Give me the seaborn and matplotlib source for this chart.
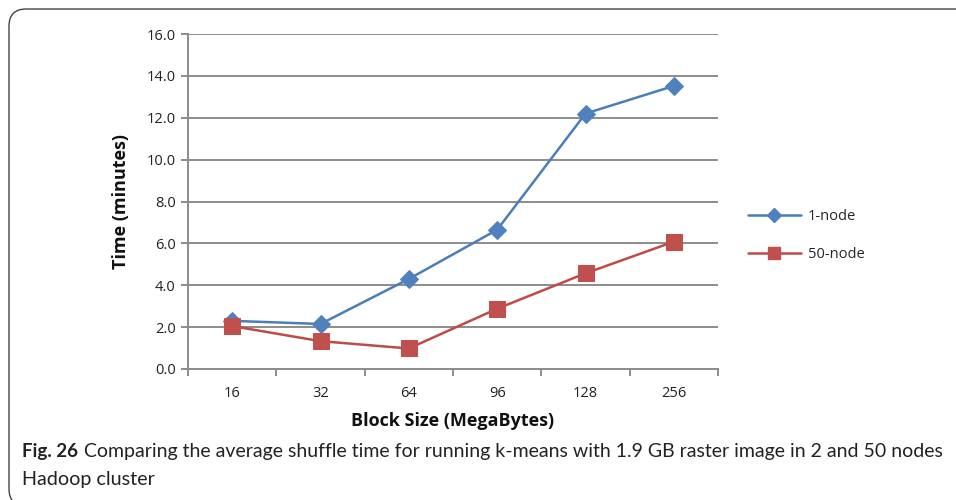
import numpy as np
import pandas as pd
import matplotlib
matplotlib.use("Agg")
import matplotlib.pyplot as plt
from matplotlib.patches import FancyBboxPatch
from matplotlib.lines import Line2D
import seaborn as sns

# Data: average shuffle time (minutes) per HDFS block size
block_sizes = ["16", "32", "64", "96", "128", "256"]
one_node = [2.30, 2.15, 4.30, 6.65, 12.20, 13.52]
fifty_node = [2.05, 1.33, 0.98, 2.88, 4.57, 6.08]
series_names = ["1-node", "50-node"]
y_ticks = [0.0, 2.0, 4.0, 6.0, 8.0, 10.0, 12.0, 14.0, 16.0]

pos = np.arange(len(block_sizes))
df = pd.DataFrame({
    "pos": np.concatenate([pos, pos]),
    "time": one_node + fifty_node,
    "series": [series_names[0]] * len(pos) + [series_names[1]] * len(pos),
})

sns.set_theme(style="white")
plt.rcParams["font.family"] = ["Open Sans", "DejaVu Sans"]

W, H = 956, 500
fig = plt.figure(figsize=(W / 100, H / 100), dpi=100)
ax = fig.add_axes([188 / W, 1 - 369 / H, (718 - 188) / W, (369 - 34) / H])

line_col = {"1-node": "#4A7EBB", "50-node": "#BE4B48"}
mk_col = {"1-node": "#4F81BD", "50-node": "#C0504D"}
mk = {"1-node": "D", "50-node": "s"}
ms = {"1-node": 9.5, "50-node": 12}

for name in series_names:
    sub = df[df["series"] == name]
    sns.lineplot(data=sub, x="pos", y="time", ax=ax, color=line_col[name],
                 linewidth=1.8, marker=mk[name], markersize=ms[name],
                 markerfacecolor=mk_col[name], markeredgecolor=mk_col[name],
                 legend=False, zorder=3)

ax.set_xlim(-0.5, len(block_sizes) - 0.5)
ax.set_ylim(0, 16)
ax.set_yticks(y_ticks)
ax.set_yticklabels([f"{v:.1f}" for v in y_ticks], fontsize=10.5, color="#222222")
ax.set_xticks(pos)
ax.set_xticklabels(block_sizes, fontsize=10.5, color="#222222")
ax.yaxis.grid(True, color="#8C8C8C", linewidth=1.4)
ax.set_axisbelow(True)

for s in ["top", "right"]:
    ax.spines[s].set_visible(False)
for s in ["left", "bottom"]:
    ax.spines[s].set_color("#8C8C8C")
    ax.spines[s].set_linewidth(1.4)

# y tick marks on the outside, x tick marks at category boundaries
ax.tick_params(axis="y", which="major", length=5, width=1.4, color="#8C8C8C",
               direction="out", left=True, pad=4)
ax.tick_params(axis="x", which="major", length=0, pad=12)
ax.set_xticks(np.arange(-0.5, len(block_sizes)), minor=True)
ax.tick_params(axis="x", which="minor", length=5, width=1.4, color="#8C8C8C",
               direction="out", bottom=True)

ax.set_xlabel("Block Size (MegaBytes)", fontsize=13, fontweight="bold",
              color="#111111", labelpad=8)
ax.set_ylabel("Time (minutes)", fontsize=13, fontweight="bold",
              color="#111111", labelpad=12)

handles = [Line2D([0], [0], color=line_col[n], lw=1.8, marker=mk[n],
                  markersize=ms[n] * 0.7, markerfacecolor=mk_col[n],
                  markeredgecolor=mk_col[n]) for n in series_names]
fig.legend(handles, series_names, loc="upper left",
           bbox_to_anchor=(735 / W, 1 - 196 / H), frameon=False,
           fontsize=10.5, handlelength=3.6, labelspacing=1.6,
           handletextpad=0.5)

# Rounded frame around the figure and caption
frame = FancyBboxPatch((9 / W, -6 / H), 1.2, (H - 3) / H,
                       boxstyle="round,pad=0,rounding_size=0.018",
                       transform=fig.transFigure, fill=False,
                       edgecolor="#444444", linewidth=1.0,
                       mutation_aspect=W / H)
fig.patches.append(frame)

cap_font = ["Lato", "DejaVu Sans"]
fig.text(22 / W, 1 - 452 / H, "Fig. 26", fontsize=13.5, fontweight="bold",
         va="center", ha="left", color="#222222", family=cap_font)
cap = fig.text(84 / W, 1 - 452 / H,
               "Comparing the average shuffle time for running k-means with 1.9 GB raster image in 2 and 50 nodes",
               fontsize=13.5, va="center", ha="left", color="#222222",
               family=cap_font)
fig.text(22 / W, 1 - 479 / H, "Hadoop cluster", fontsize=14.2,
         va="center", ha="left", color="#222222", family=cap_font)

# size the long caption line so it ends near the right border
renderer = fig.canvas.get_renderer()
w = cap.get_window_extent(renderer).width
target = 945 - 84
cap.set_fontsize(13.5 * target / w)

fig.savefig("out.png", dpi=100)
